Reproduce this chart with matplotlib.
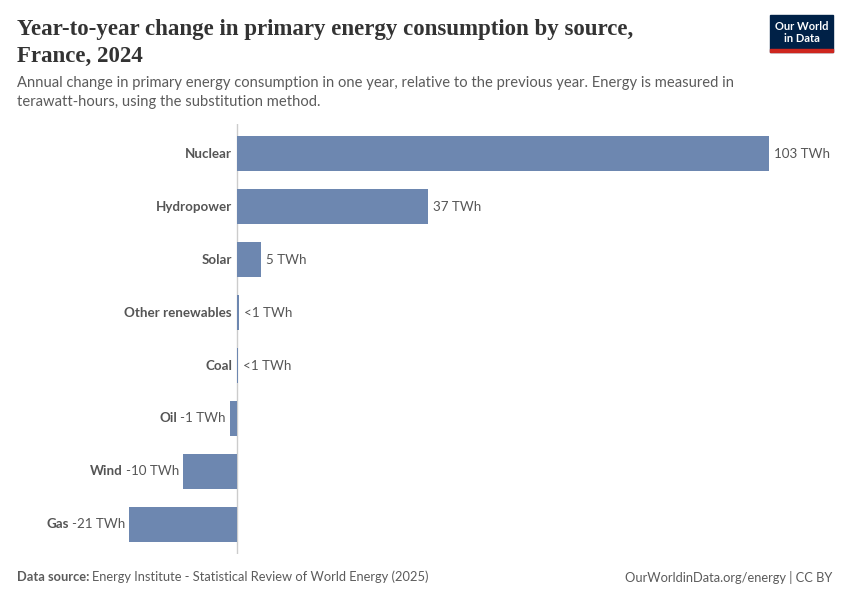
import matplotlib
matplotlib.use("Agg")
import matplotlib.pyplot as plt
from matplotlib.patches import Rectangle

categories = ["Nuclear", "Hydropower", "Solar", "Other renewables", "Coal", "Oil", "Wind", "Gas"]
values = [103.0, 37.0, 4.6, 0.4, 0.15, -1.4, -10.4, -20.9]
value_labels = ["103 TWh", "37 TWh", "5 TWh", "<1 TWh", "<1 TWh", "-1 TWh", "-10 TWh", "-21 TWh"]

W, H = 850, 600
fig = plt.figure(figsize=(W / 100, H / 100), dpi=100)
fig.patch.set_facecolor("white")

def px(x, y):
    return x / W, 1 - y / H

# axes in pixel coords
ax_l, ax_r, ax_t, ax_b = 120, 775, 123.5, 553.5
ax = fig.add_axes([ax_l / W, 1 - ax_b / H, (ax_r - ax_l) / W, (ax_b - ax_t) / H])
scale = 5.165
ax.set_xlim(-(237 - ax_l) / scale, (ax_r - 237) / scale)
ax.set_ylim(7.55, -0.57)
ax.axis("off")

bar_color = "#6d87b0"
ypos = list(range(len(categories)))
ax.barh(ypos, values, height=0.65, color=bar_color, zorder=2)
ax.axvline(0, color="#cccccc", lw=1, zorder=1)

lab_font = "Lato"
for y, v, cat, lbl in zip(ypos, values, categories, value_labels):
    if v >= 0:
        ax.annotate(cat, (0, y), xytext=(-5, 0), textcoords="offset pixels",
                    ha="right", va="center", fontsize=9.6, fontweight="bold",
                    color="#555555", family=lab_font)
        ax.annotate(lbl, (v, y), xytext=(5, 0), textcoords="offset pixels",
                    ha="left", va="center", fontsize=9.6, color="#555555", family=lab_font)
    else:
        t = ax.annotate(lbl, (v, y), xytext=(-4, 0), textcoords="offset pixels",
                        ha="right", va="center", fontsize=9.6, color="#555555", family=lab_font)
        fig.canvas.draw()
        bb = t.get_window_extent()
        fig.text(bb.x0 / W - 3 / W, (bb.y0 + bb.height / 2) / H, cat,
                 ha="right", va="center", fontsize=9.6, fontweight="bold",
                 color="#555555", family=lab_font)

# Title
fig.text(*px(17, 30), "Year-to-year change in primary energy consumption by source,",
         fontsize=16.5, family="Liberation Serif", fontweight="bold", color="#333333", va="center", ha="left")
fig.text(*px(17, 56), "France, 2024",
         fontsize=16.5, family="Liberation Serif", fontweight="bold", color="#333333", va="center", ha="left")
fig.text(*px(17, 83), "Annual change in primary energy consumption in one year, relative to the previous year. Energy is measured in",
         fontsize=10.65, family="Lato", color="#5b5b5b", va="center", ha="left")
fig.text(*px(17, 102), "terawatt-hours, using the substitution method.",
         fontsize=10.65, family="Lato", color="#5b5b5b", va="center", ha="left")

# Footer
t1 = fig.text(*px(17, 577), "Data source:", fontsize=9.3, family="Lato", fontweight="bold",
              color="#5b5b5b", va="center", ha="left")
fig.canvas.draw()
bb = t1.get_window_extent()
fig.text(bb.x1 / W + 3 / W, 1 - 577 / H, "Energy Institute - Statistical Review of World Energy (2025)",
         fontsize=9.3, family="Lato", color="#5b5b5b", va="center", ha="left")
fig.text(*px(832, 577), "OurWorldinData.org/energy | CC BY", fontsize=9.3, family="Lato",
         color="#5b5b5b", va="center", ha="right")

# Logo
lx0, ly0, lx1, ly1 = 770, 15, 833, 52
fig.patches.append(Rectangle((lx0 / W, 1 - ly1 / H), (lx1 - lx0) / W, (ly1 - ly0) / H,
                             transform=fig.transFigure, color="#002147", zorder=5))
fig.patches.append(Rectangle((lx0 / W, 1 - ly1 / H), (lx1 - lx0) / W, 3 / H,
                             transform=fig.transFigure, color="#ce261e", zorder=6))
fig.text(*px(801.5, 26), "Our World", fontsize=8, family="Lato", fontweight="bold",
         color="white", ha="center", va="center", zorder=7)
fig.text(*px(801.5, 39), "in Data", fontsize=8, family="Lato", fontweight="bold",
         color="white", ha="center", va="center", zorder=7)

fig.savefig("out.png", dpi=100, facecolor="white")
